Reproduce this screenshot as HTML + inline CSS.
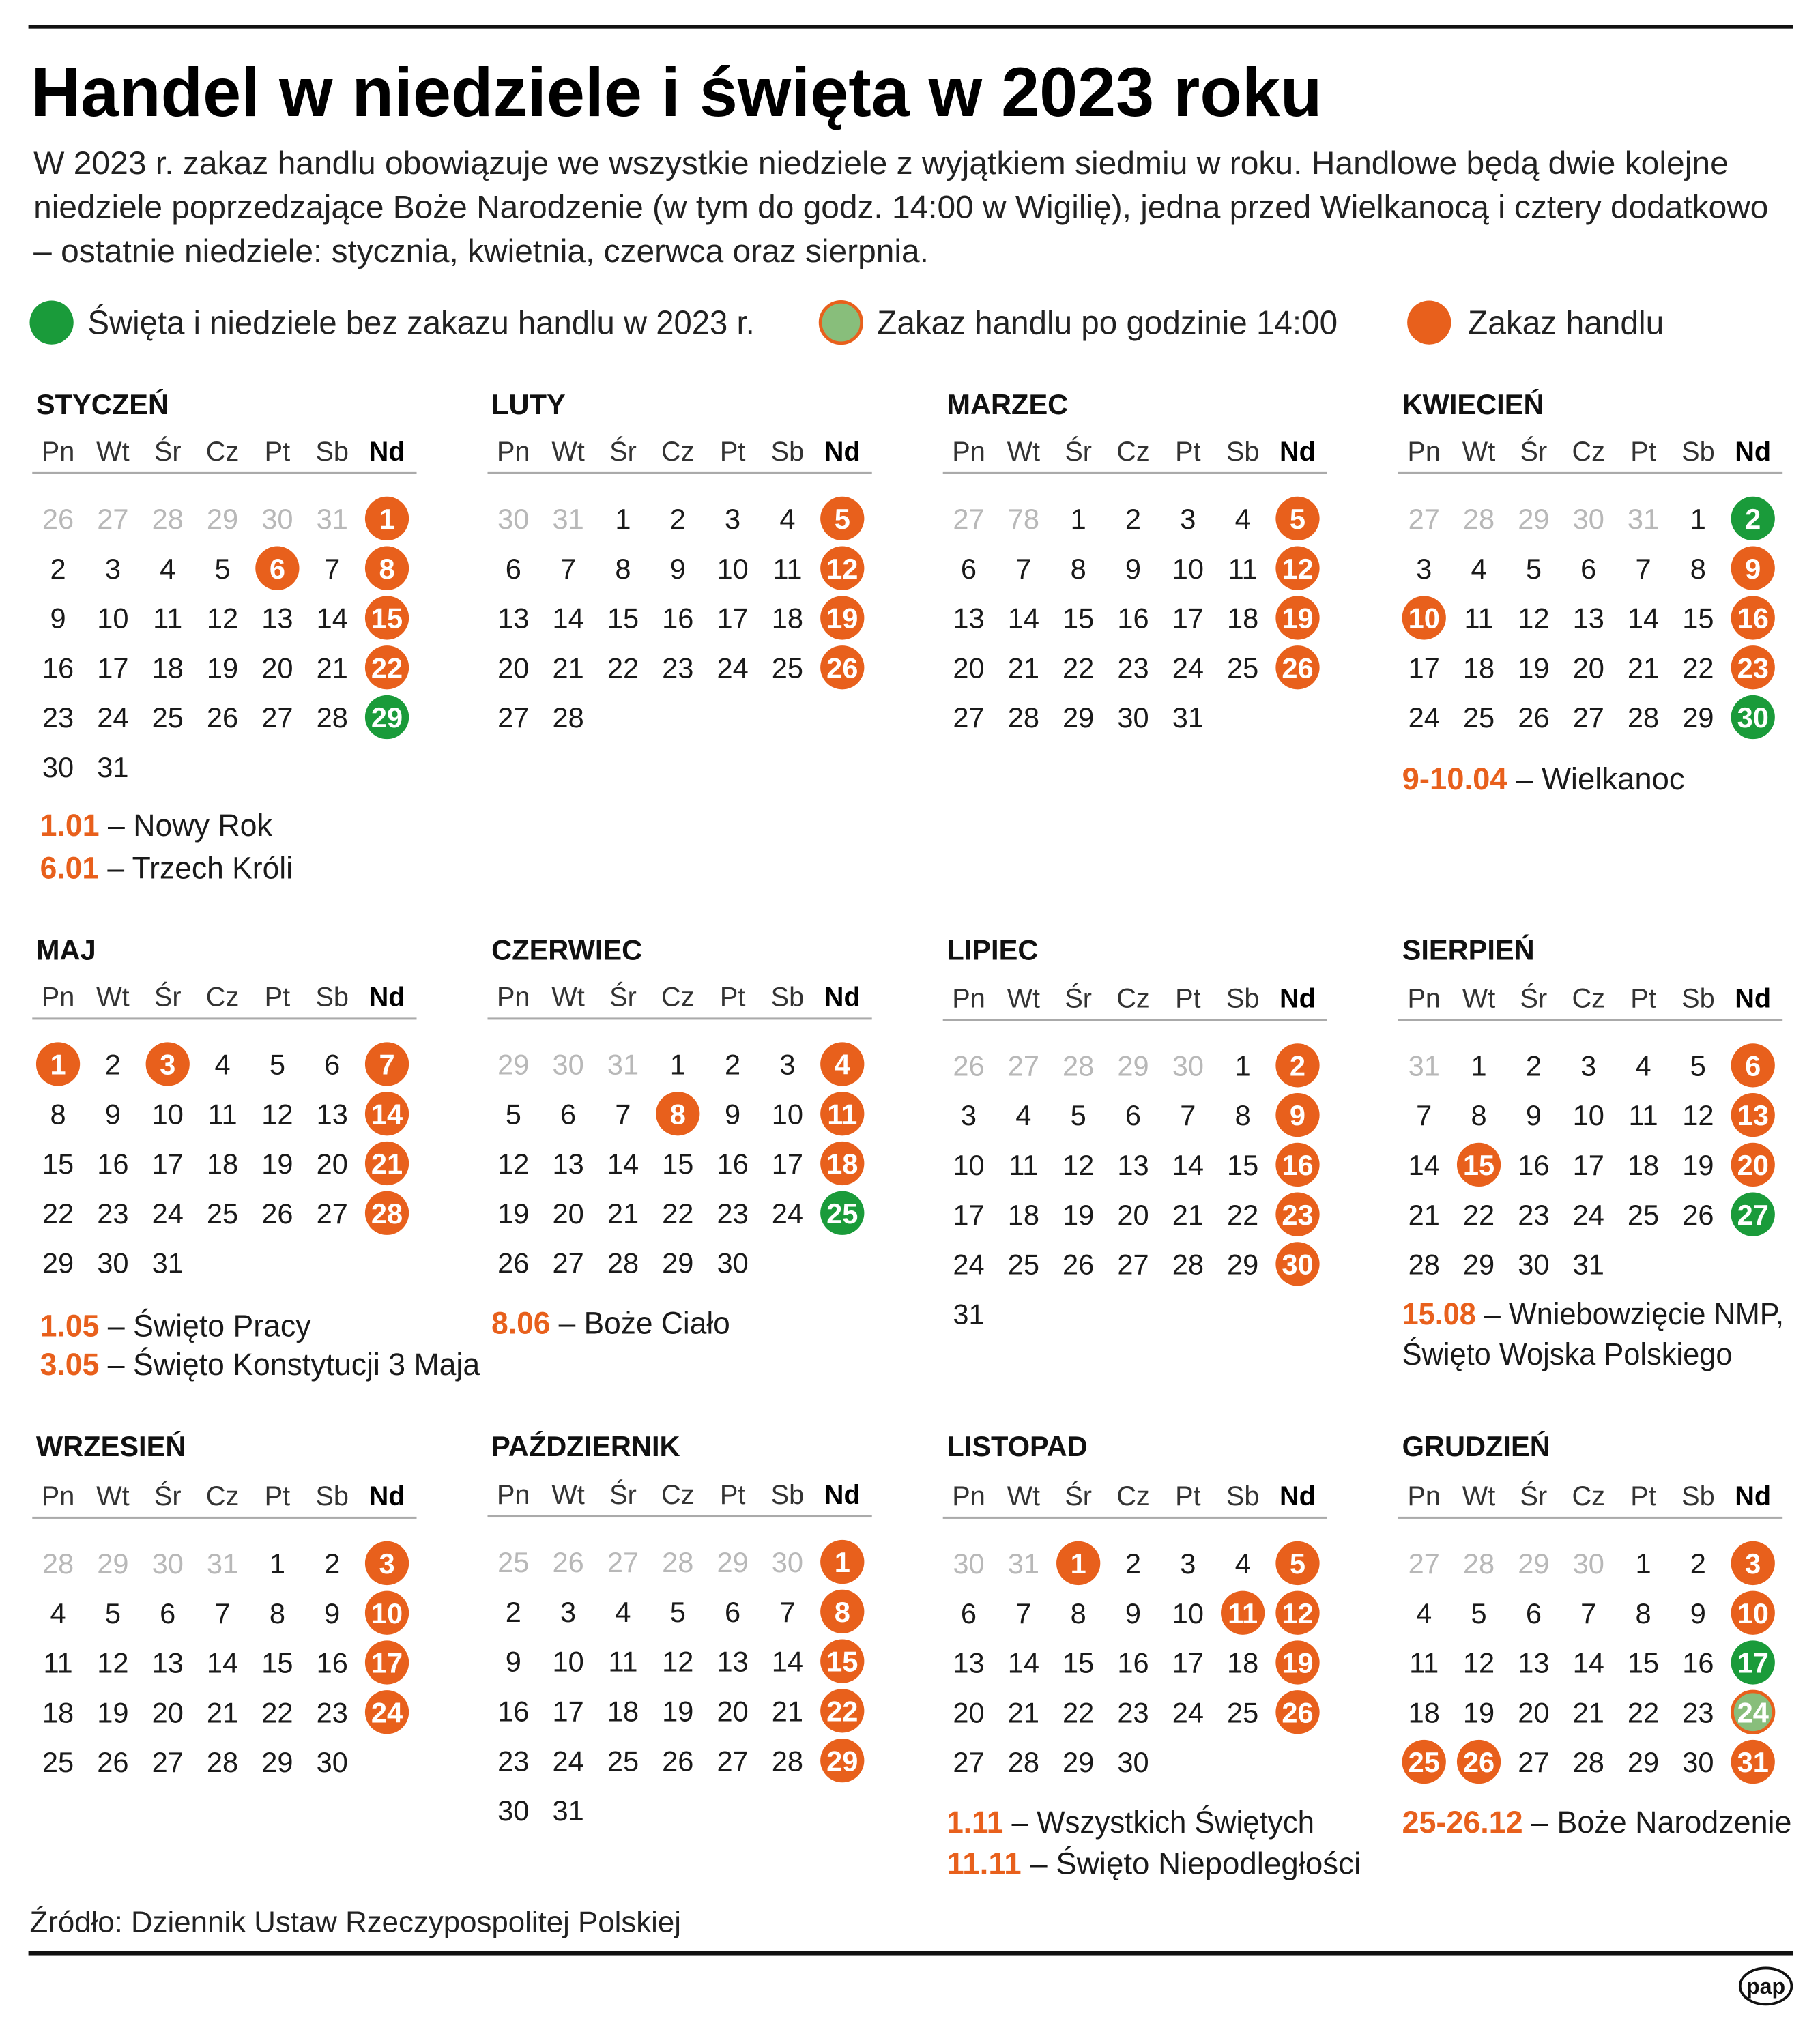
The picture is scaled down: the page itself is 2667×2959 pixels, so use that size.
<!DOCTYPE html>
<html><head><meta charset="utf-8"><style>
html,body{margin:0;padding:0;background:#fff}
svg{display:block}
text{font-family:"Liberation Sans","DejaVu Sans",sans-serif}
.d{font-size:22px;fill:#1a1a1a;text-anchor:middle}
.g{font-size:22px;fill:#b8b8b8;text-anchor:middle}
.w{font-size:22px;fill:#fff;font-weight:bold;text-anchor:middle}
.h{font-size:21px;fill:#333;text-anchor:middle}
.hb{font-size:21px;fill:#000;font-weight:bold;text-anchor:middle}
.t{font-size:22px;font-weight:bold;fill:#111}
.n{font-size:24px;fill:#1a1a1a}
.nb{fill:#E8601C;font-weight:bold}
.o{fill:#E8601C}.gr{fill:#1A9B3A}.lg{fill:#88BE7B;stroke:#E8601C;stroke-width:2.5}
</style></head><body>
<svg width="2667" height="2959" viewBox="0 0 1411 1565.4" xmlns="http://www.w3.org/2000/svg">
<defs>
<g id="hdr">
<text class="h" x="45" y="-45">Pn</text><text class="h" x="87.5" y="-45">Wt</text><text class="h" x="130" y="-45">Śr</text><text class="h" x="172.5" y="-45">Cz</text><text class="h" x="215" y="-45">Pt</text><text class="h" x="257.5" y="-45">Sb</text><text class="hb" x="300" y="-45">Nd</text>
<rect x="25" y="-36" width="298" height="1.6" fill="#aaa"/>
</g>
</defs>
<rect x="22" y="19" width="1368" height="3" fill="#111"/>
<text x="24" y="90" font-size="54" font-weight="bold" fill="#000" textLength="1001" lengthAdjust="spacingAndGlyphs">Handel w niedziele i święta w 2023 roku</text>
<text x="26" y="135" font-size="25" fill="#222" textLength="1314" lengthAdjust="spacingAndGlyphs">W 2023 r. zakaz handlu obowiązuje we wszystkie niedziele z wyjątkiem siedmiu w roku. Handlowe będą dwie kolejne</text>
<text x="26" y="169" font-size="25" fill="#222" textLength="1345" lengthAdjust="spacingAndGlyphs">niedziele poprzedzające Boże Narodzenie (w tym do godz. 14:00 w Wigilię), jedna przed Wielkanocą i cztery dodatkowo</text>
<text x="26" y="203" font-size="25" fill="#222" textLength="694" lengthAdjust="spacingAndGlyphs">– ostatnie niedziele: stycznia, kwietnia, czerwca oraz sierpnia.</text>
<circle cx="40" cy="250" r="17" class="gr"/>
<text x="68" y="259" font-size="26" fill="#222" textLength="517" lengthAdjust="spacingAndGlyphs">Święta i niedziele bez zakazu handlu w 2023 r.</text>
<circle cx="652" cy="250" r="16" class="lg"/>
<text x="680" y="259" font-size="26" fill="#222" textLength="357" lengthAdjust="spacingAndGlyphs">Zakaz handlu po godzinie 14:00</text>
<circle cx="1108" cy="250" r="17" class="o"/>
<text x="1138" y="259" font-size="26" fill="#222" textLength="152" lengthAdjust="spacingAndGlyphs">Zakaz handlu</text>

<!-- STYCZEN -->
<g transform="translate(0,402)">
<text class="t" x="28" y="-81">STYCZEŃ</text><use href="#hdr"/>
<text class="g" x="45" y="8">26</text><text class="g" x="87.5" y="8">27</text><text class="g" x="130" y="8">28</text><text class="g" x="172.5" y="8">29</text><text class="g" x="215" y="8">30</text><text class="g" x="257.5" y="8">31</text><circle cx="300" cy="0" r="17" class="o"/><text class="w" x="300" y="8">1</text>
<text class="d" x="45" y="46.5">2</text><text class="d" x="87.5" y="46.5">3</text><text class="d" x="130" y="46.5">4</text><text class="d" x="172.5" y="46.5">5</text><circle cx="215" cy="38.5" r="17" class="o"/><text class="w" x="215" y="46.5">6</text><text class="d" x="257.5" y="46.5">7</text><circle cx="300" cy="38.5" r="17" class="o"/><text class="w" x="300" y="46.5">8</text>
<text class="d" x="45" y="85">9</text><text class="d" x="87.5" y="85">10</text><text class="d" x="130" y="85">11</text><text class="d" x="172.5" y="85">12</text><text class="d" x="215" y="85">13</text><text class="d" x="257.5" y="85">14</text><circle cx="300" cy="77" r="17" class="o"/><text class="w" x="300" y="85">15</text>
<text class="d" x="45" y="123.5">16</text><text class="d" x="87.5" y="123.5">17</text><text class="d" x="130" y="123.5">18</text><text class="d" x="172.5" y="123.5">19</text><text class="d" x="215" y="123.5">20</text><text class="d" x="257.5" y="123.5">21</text><circle cx="300" cy="115.5" r="17" class="o"/><text class="w" x="300" y="123.5">22</text>
<text class="d" x="45" y="162">23</text><text class="d" x="87.5" y="162">24</text><text class="d" x="130" y="162">25</text><text class="d" x="172.5" y="162">26</text><text class="d" x="215" y="162">27</text><text class="d" x="257.5" y="162">28</text><circle cx="300" cy="154" r="17" class="gr"/><text class="w" x="300" y="162">29</text>
<text class="d" x="45" y="200.5">30</text><text class="d" x="87.5" y="200.5">31</text>
<text class="n" x="31" y="246" textLength="180" lengthAdjust="spacingAndGlyphs"><tspan class="nb">1.01</tspan> – Nowy Rok</text>
<text class="n" x="31" y="279" textLength="196" lengthAdjust="spacingAndGlyphs"><tspan class="nb">6.01</tspan> – Trzech Króli</text>
</g>

<!-- LUTY -->
<g transform="translate(353,402)">
<text class="t" x="28" y="-81">LUTY</text><use href="#hdr"/>
<text class="g" x="45" y="8">30</text><text class="g" x="87.5" y="8">31</text><text class="d" x="130" y="8">1</text><text class="d" x="172.5" y="8">2</text><text class="d" x="215" y="8">3</text><text class="d" x="257.5" y="8">4</text><circle cx="300" cy="0" r="17" class="o"/><text class="w" x="300" y="8">5</text>
<text class="d" x="45" y="46.5">6</text><text class="d" x="87.5" y="46.5">7</text><text class="d" x="130" y="46.5">8</text><text class="d" x="172.5" y="46.5">9</text><text class="d" x="215" y="46.5">10</text><text class="d" x="257.5" y="46.5">11</text><circle cx="300" cy="38.5" r="17" class="o"/><text class="w" x="300" y="46.5">12</text>
<text class="d" x="45" y="85">13</text><text class="d" x="87.5" y="85">14</text><text class="d" x="130" y="85">15</text><text class="d" x="172.5" y="85">16</text><text class="d" x="215" y="85">17</text><text class="d" x="257.5" y="85">18</text><circle cx="300" cy="77" r="17" class="o"/><text class="w" x="300" y="85">19</text>
<text class="d" x="45" y="123.5">20</text><text class="d" x="87.5" y="123.5">21</text><text class="d" x="130" y="123.5">22</text><text class="d" x="172.5" y="123.5">23</text><text class="d" x="215" y="123.5">24</text><text class="d" x="257.5" y="123.5">25</text><circle cx="300" cy="115.5" r="17" class="o"/><text class="w" x="300" y="123.5">26</text>
<text class="d" x="45" y="162">27</text><text class="d" x="87.5" y="162">28</text>
</g>

<!-- MARZEC -->
<g transform="translate(706,402)">
<text class="t" x="28" y="-81">MARZEC</text><use href="#hdr"/>
<text class="g" x="45" y="8">27</text><text class="g" x="87.5" y="8">78</text><text class="d" x="130" y="8">1</text><text class="d" x="172.5" y="8">2</text><text class="d" x="215" y="8">3</text><text class="d" x="257.5" y="8">4</text><circle cx="300" cy="0" r="17" class="o"/><text class="w" x="300" y="8">5</text>
<text class="d" x="45" y="46.5">6</text><text class="d" x="87.5" y="46.5">7</text><text class="d" x="130" y="46.5">8</text><text class="d" x="172.5" y="46.5">9</text><text class="d" x="215" y="46.5">10</text><text class="d" x="257.5" y="46.5">11</text><circle cx="300" cy="38.5" r="17" class="o"/><text class="w" x="300" y="46.5">12</text>
<text class="d" x="45" y="85">13</text><text class="d" x="87.5" y="85">14</text><text class="d" x="130" y="85">15</text><text class="d" x="172.5" y="85">16</text><text class="d" x="215" y="85">17</text><text class="d" x="257.5" y="85">18</text><circle cx="300" cy="77" r="17" class="o"/><text class="w" x="300" y="85">19</text>
<text class="d" x="45" y="123.5">20</text><text class="d" x="87.5" y="123.5">21</text><text class="d" x="130" y="123.5">22</text><text class="d" x="172.5" y="123.5">23</text><text class="d" x="215" y="123.5">24</text><text class="d" x="257.5" y="123.5">25</text><circle cx="300" cy="115.5" r="17" class="o"/><text class="w" x="300" y="123.5">26</text>
<text class="d" x="45" y="162">27</text><text class="d" x="87.5" y="162">28</text><text class="d" x="130" y="162">29</text><text class="d" x="172.5" y="162">30</text><text class="d" x="215" y="162">31</text>
</g>

<!-- KWIECIEN -->
<g transform="translate(1059,402)">
<text class="t" x="28" y="-81">KWIECIEŃ</text><use href="#hdr"/>
<text class="g" x="45" y="8">27</text><text class="g" x="87.5" y="8">28</text><text class="g" x="130" y="8">29</text><text class="g" x="172.5" y="8">30</text><text class="g" x="215" y="8">31</text><text class="d" x="257.5" y="8">1</text><circle cx="300" cy="0" r="17" class="gr"/><text class="w" x="300" y="8">2</text>
<text class="d" x="45" y="46.5">3</text><text class="d" x="87.5" y="46.5">4</text><text class="d" x="130" y="46.5">5</text><text class="d" x="172.5" y="46.5">6</text><text class="d" x="215" y="46.5">7</text><text class="d" x="257.5" y="46.5">8</text><circle cx="300" cy="38.5" r="17" class="o"/><text class="w" x="300" y="46.5">9</text>
<circle cx="45" cy="77" r="17" class="o"/><text class="w" x="45" y="85">10</text><text class="d" x="87.5" y="85">11</text><text class="d" x="130" y="85">12</text><text class="d" x="172.5" y="85">13</text><text class="d" x="215" y="85">14</text><text class="d" x="257.5" y="85">15</text><circle cx="300" cy="77" r="17" class="o"/><text class="w" x="300" y="85">16</text>
<text class="d" x="45" y="123.5">17</text><text class="d" x="87.5" y="123.5">18</text><text class="d" x="130" y="123.5">19</text><text class="d" x="172.5" y="123.5">20</text><text class="d" x="215" y="123.5">21</text><text class="d" x="257.5" y="123.5">22</text><circle cx="300" cy="115.5" r="17" class="o"/><text class="w" x="300" y="123.5">23</text>
<text class="d" x="45" y="162">24</text><text class="d" x="87.5" y="162">25</text><text class="d" x="130" y="162">26</text><text class="d" x="172.5" y="162">27</text><text class="d" x="215" y="162">28</text><text class="d" x="257.5" y="162">29</text><circle cx="300" cy="154" r="17" class="gr"/><text class="w" x="300" y="162">30</text>
<text class="n" x="28" y="210" textLength="219" lengthAdjust="spacingAndGlyphs"><tspan class="nb">9-10.04</tspan> – Wielkanoc</text>
</g>

<!-- MAJ -->
<g transform="translate(0,825)">
<text class="t" x="28" y="-81">MAJ</text><use href="#hdr"/>
<circle cx="45" cy="0" r="17" class="o"/><text class="w" x="45" y="8">1</text><text class="d" x="87.5" y="8">2</text><circle cx="130" cy="0" r="17" class="o"/><text class="w" x="130" y="8">3</text><text class="d" x="172.5" y="8">4</text><text class="d" x="215" y="8">5</text><text class="d" x="257.5" y="8">6</text><circle cx="300" cy="0" r="17" class="o"/><text class="w" x="300" y="8">7</text>
<text class="d" x="45" y="46.5">8</text><text class="d" x="87.5" y="46.5">9</text><text class="d" x="130" y="46.5">10</text><text class="d" x="172.5" y="46.5">11</text><text class="d" x="215" y="46.5">12</text><text class="d" x="257.5" y="46.5">13</text><circle cx="300" cy="38.5" r="17" class="o"/><text class="w" x="300" y="46.5">14</text>
<text class="d" x="45" y="85">15</text><text class="d" x="87.5" y="85">16</text><text class="d" x="130" y="85">17</text><text class="d" x="172.5" y="85">18</text><text class="d" x="215" y="85">19</text><text class="d" x="257.5" y="85">20</text><circle cx="300" cy="77" r="17" class="o"/><text class="w" x="300" y="85">21</text>
<text class="d" x="45" y="123.5">22</text><text class="d" x="87.5" y="123.5">23</text><text class="d" x="130" y="123.5">24</text><text class="d" x="172.5" y="123.5">25</text><text class="d" x="215" y="123.5">26</text><text class="d" x="257.5" y="123.5">27</text><circle cx="300" cy="115.5" r="17" class="o"/><text class="w" x="300" y="123.5">28</text>
<text class="d" x="45" y="162">29</text><text class="d" x="87.5" y="162">30</text><text class="d" x="130" y="162">31</text>
<text class="n" x="31" y="211" textLength="210" lengthAdjust="spacingAndGlyphs"><tspan class="nb">1.05</tspan> – Święto Pracy</text>
<text class="n" x="31" y="241" textLength="341" lengthAdjust="spacingAndGlyphs"><tspan class="nb">3.05</tspan> – Święto Konstytucji 3 Maja</text>
</g>

<!-- CZERWIEC -->
<g transform="translate(353,825)">
<text class="t" x="28" y="-81">CZERWIEC</text><use href="#hdr"/>
<text class="g" x="45" y="8">29</text><text class="g" x="87.5" y="8">30</text><text class="g" x="130" y="8">31</text><text class="d" x="172.5" y="8">1</text><text class="d" x="215" y="8">2</text><text class="d" x="257.5" y="8">3</text><circle cx="300" cy="0" r="17" class="o"/><text class="w" x="300" y="8">4</text>
<text class="d" x="45" y="46.5">5</text><text class="d" x="87.5" y="46.5">6</text><text class="d" x="130" y="46.5">7</text><circle cx="172.5" cy="38.5" r="17" class="o"/><text class="w" x="172.5" y="46.5">8</text><text class="d" x="215" y="46.5">9</text><text class="d" x="257.5" y="46.5">10</text><circle cx="300" cy="38.5" r="17" class="o"/><text class="w" x="300" y="46.5">11</text>
<text class="d" x="45" y="85">12</text><text class="d" x="87.5" y="85">13</text><text class="d" x="130" y="85">14</text><text class="d" x="172.5" y="85">15</text><text class="d" x="215" y="85">16</text><text class="d" x="257.5" y="85">17</text><circle cx="300" cy="77" r="17" class="o"/><text class="w" x="300" y="85">18</text>
<text class="d" x="45" y="123.5">19</text><text class="d" x="87.5" y="123.5">20</text><text class="d" x="130" y="123.5">21</text><text class="d" x="172.5" y="123.5">22</text><text class="d" x="215" y="123.5">23</text><text class="d" x="257.5" y="123.5">24</text><circle cx="300" cy="115.5" r="17" class="gr"/><text class="w" x="300" y="123.5">25</text>
<text class="d" x="45" y="162">26</text><text class="d" x="87.5" y="162">27</text><text class="d" x="130" y="162">28</text><text class="d" x="172.5" y="162">29</text><text class="d" x="215" y="162">30</text>
<text class="n" x="28" y="209" textLength="185" lengthAdjust="spacingAndGlyphs"><tspan class="nb">8.06</tspan> – Boże Ciało</text>
</g>

<!-- LIPIEC -->
<g transform="translate(706,826)">
<text class="t" x="28" y="-82">LIPIEC</text><use href="#hdr"/>
<text class="g" x="45" y="8">26</text><text class="g" x="87.5" y="8">27</text><text class="g" x="130" y="8">28</text><text class="g" x="172.5" y="8">29</text><text class="g" x="215" y="8">30</text><text class="d" x="257.5" y="8">1</text><circle cx="300" cy="0" r="17" class="o"/><text class="w" x="300" y="8">2</text>
<text class="d" x="45" y="46.5">3</text><text class="d" x="87.5" y="46.5">4</text><text class="d" x="130" y="46.5">5</text><text class="d" x="172.5" y="46.5">6</text><text class="d" x="215" y="46.5">7</text><text class="d" x="257.5" y="46.5">8</text><circle cx="300" cy="38.5" r="17" class="o"/><text class="w" x="300" y="46.5">9</text>
<text class="d" x="45" y="85">10</text><text class="d" x="87.5" y="85">11</text><text class="d" x="130" y="85">12</text><text class="d" x="172.5" y="85">13</text><text class="d" x="215" y="85">14</text><text class="d" x="257.5" y="85">15</text><circle cx="300" cy="77" r="17" class="o"/><text class="w" x="300" y="85">16</text>
<text class="d" x="45" y="123.5">17</text><text class="d" x="87.5" y="123.5">18</text><text class="d" x="130" y="123.5">19</text><text class="d" x="172.5" y="123.5">20</text><text class="d" x="215" y="123.5">21</text><text class="d" x="257.5" y="123.5">22</text><circle cx="300" cy="115.5" r="17" class="o"/><text class="w" x="300" y="123.5">23</text>
<text class="d" x="45" y="162">24</text><text class="d" x="87.5" y="162">25</text><text class="d" x="130" y="162">26</text><text class="d" x="172.5" y="162">27</text><text class="d" x="215" y="162">28</text><text class="d" x="257.5" y="162">29</text><circle cx="300" cy="154" r="17" class="o"/><text class="w" x="300" y="162">30</text>
<text class="d" x="45" y="200.5">31</text>
</g>

<!-- SIERPIEN -->
<g transform="translate(1059,826)">
<text class="t" x="28" y="-82">SIERPIEŃ</text><use href="#hdr"/>
<text class="g" x="45" y="8">31</text><text class="d" x="87.5" y="8">1</text><text class="d" x="130" y="8">2</text><text class="d" x="172.5" y="8">3</text><text class="d" x="215" y="8">4</text><text class="d" x="257.5" y="8">5</text><circle cx="300" cy="0" r="17" class="o"/><text class="w" x="300" y="8">6</text>
<text class="d" x="45" y="46.5">7</text><text class="d" x="87.5" y="46.5">8</text><text class="d" x="130" y="46.5">9</text><text class="d" x="172.5" y="46.5">10</text><text class="d" x="215" y="46.5">11</text><text class="d" x="257.5" y="46.5">12</text><circle cx="300" cy="38.5" r="17" class="o"/><text class="w" x="300" y="46.5">13</text>
<text class="d" x="45" y="85">14</text><circle cx="87.5" cy="77" r="17" class="o"/><text class="w" x="87.5" y="85">15</text><text class="d" x="130" y="85">16</text><text class="d" x="172.5" y="85">17</text><text class="d" x="215" y="85">18</text><text class="d" x="257.5" y="85">19</text><circle cx="300" cy="77" r="17" class="o"/><text class="w" x="300" y="85">20</text>
<text class="d" x="45" y="123.5">21</text><text class="d" x="87.5" y="123.5">22</text><text class="d" x="130" y="123.5">23</text><text class="d" x="172.5" y="123.5">24</text><text class="d" x="215" y="123.5">25</text><text class="d" x="257.5" y="123.5">26</text><circle cx="300" cy="115.5" r="17" class="gr"/><text class="w" x="300" y="123.5">27</text>
<text class="d" x="45" y="162">28</text><text class="d" x="87.5" y="162">29</text><text class="d" x="130" y="162">30</text><text class="d" x="172.5" y="162">31</text>
<text class="n" x="28" y="201" textLength="296" lengthAdjust="spacingAndGlyphs"><tspan class="nb">15.08</tspan> – Wniebowzięcie NMP,</text>
<text class="n" x="28" y="232" textLength="256" lengthAdjust="spacingAndGlyphs">Święto Wojska Polskiego</text>
</g>

<!-- WRZESIEN -->
<g transform="translate(0,1212)">
<text class="t" x="28" y="-83">WRZESIEŃ</text><use href="#hdr"/>
<text class="g" x="45" y="8">28</text><text class="g" x="87.5" y="8">29</text><text class="g" x="130" y="8">30</text><text class="g" x="172.5" y="8">31</text><text class="d" x="215" y="8">1</text><text class="d" x="257.5" y="8">2</text><circle cx="300" cy="0" r="17" class="o"/><text class="w" x="300" y="8">3</text>
<text class="d" x="45" y="46.5">4</text><text class="d" x="87.5" y="46.5">5</text><text class="d" x="130" y="46.5">6</text><text class="d" x="172.5" y="46.5">7</text><text class="d" x="215" y="46.5">8</text><text class="d" x="257.5" y="46.5">9</text><circle cx="300" cy="38.5" r="17" class="o"/><text class="w" x="300" y="46.5">10</text>
<text class="d" x="45" y="85">11</text><text class="d" x="87.5" y="85">12</text><text class="d" x="130" y="85">13</text><text class="d" x="172.5" y="85">14</text><text class="d" x="215" y="85">15</text><text class="d" x="257.5" y="85">16</text><circle cx="300" cy="77" r="17" class="o"/><text class="w" x="300" y="85">17</text>
<text class="d" x="45" y="123.5">18</text><text class="d" x="87.5" y="123.5">19</text><text class="d" x="130" y="123.5">20</text><text class="d" x="172.5" y="123.5">21</text><text class="d" x="215" y="123.5">22</text><text class="d" x="257.5" y="123.5">23</text><circle cx="300" cy="115.5" r="17" class="o"/><text class="w" x="300" y="123.5">24</text>
<text class="d" x="45" y="162">25</text><text class="d" x="87.5" y="162">26</text><text class="d" x="130" y="162">27</text><text class="d" x="172.5" y="162">28</text><text class="d" x="215" y="162">29</text><text class="d" x="257.5" y="162">30</text>
</g>

<!-- PAZDZIERNIK -->
<g transform="translate(353,1211)">
<text class="t" x="28" y="-82">PAŹDZIERNIK</text><use href="#hdr"/>
<text class="g" x="45" y="8">25</text><text class="g" x="87.5" y="8">26</text><text class="g" x="130" y="8">27</text><text class="g" x="172.5" y="8">28</text><text class="g" x="215" y="8">29</text><text class="g" x="257.5" y="8">30</text><circle cx="300" cy="0" r="17" class="o"/><text class="w" x="300" y="8">1</text>
<text class="d" x="45" y="46.5">2</text><text class="d" x="87.5" y="46.5">3</text><text class="d" x="130" y="46.5">4</text><text class="d" x="172.5" y="46.5">5</text><text class="d" x="215" y="46.5">6</text><text class="d" x="257.5" y="46.5">7</text><circle cx="300" cy="38.5" r="17" class="o"/><text class="w" x="300" y="46.5">8</text>
<text class="d" x="45" y="85">9</text><text class="d" x="87.5" y="85">10</text><text class="d" x="130" y="85">11</text><text class="d" x="172.5" y="85">12</text><text class="d" x="215" y="85">13</text><text class="d" x="257.5" y="85">14</text><circle cx="300" cy="77" r="17" class="o"/><text class="w" x="300" y="85">15</text>
<text class="d" x="45" y="123.5">16</text><text class="d" x="87.5" y="123.5">17</text><text class="d" x="130" y="123.5">18</text><text class="d" x="172.5" y="123.5">19</text><text class="d" x="215" y="123.5">20</text><text class="d" x="257.5" y="123.5">21</text><circle cx="300" cy="115.5" r="17" class="o"/><text class="w" x="300" y="123.5">22</text>
<text class="d" x="45" y="162">23</text><text class="d" x="87.5" y="162">24</text><text class="d" x="130" y="162">25</text><text class="d" x="172.5" y="162">26</text><text class="d" x="215" y="162">27</text><text class="d" x="257.5" y="162">28</text><circle cx="300" cy="154" r="17" class="o"/><text class="w" x="300" y="162">29</text>
<text class="d" x="45" y="200.5">30</text><text class="d" x="87.5" y="200.5">31</text>
</g>

<!-- LISTOPAD -->
<g transform="translate(706,1212)">
<text class="t" x="28" y="-83">LISTOPAD</text><use href="#hdr"/>
<text class="g" x="45" y="8">30</text><text class="g" x="87.5" y="8">31</text><circle cx="130" cy="0" r="17" class="o"/><text class="w" x="130" y="8">1</text><text class="d" x="172.5" y="8">2</text><text class="d" x="215" y="8">3</text><text class="d" x="257.5" y="8">4</text><circle cx="300" cy="0" r="17" class="o"/><text class="w" x="300" y="8">5</text>
<text class="d" x="45" y="46.5">6</text><text class="d" x="87.5" y="46.5">7</text><text class="d" x="130" y="46.5">8</text><text class="d" x="172.5" y="46.5">9</text><text class="d" x="215" y="46.5">10</text><circle cx="257.5" cy="38.5" r="17" class="o"/><text class="w" x="257.5" y="46.5">11</text><circle cx="300" cy="38.5" r="17" class="o"/><text class="w" x="300" y="46.5">12</text>
<text class="d" x="45" y="85">13</text><text class="d" x="87.5" y="85">14</text><text class="d" x="130" y="85">15</text><text class="d" x="172.5" y="85">16</text><text class="d" x="215" y="85">17</text><text class="d" x="257.5" y="85">18</text><circle cx="300" cy="77" r="17" class="o"/><text class="w" x="300" y="85">19</text>
<text class="d" x="45" y="123.5">20</text><text class="d" x="87.5" y="123.5">21</text><text class="d" x="130" y="123.5">22</text><text class="d" x="172.5" y="123.5">23</text><text class="d" x="215" y="123.5">24</text><text class="d" x="257.5" y="123.5">25</text><circle cx="300" cy="115.5" r="17" class="o"/><text class="w" x="300" y="123.5">26</text>
<text class="d" x="45" y="162">27</text><text class="d" x="87.5" y="162">28</text><text class="d" x="130" y="162">29</text><text class="d" x="172.5" y="162">30</text>
<text class="n" x="28" y="209" textLength="285" lengthAdjust="spacingAndGlyphs"><tspan class="nb">1.11</tspan> – Wszystkich Świętych</text>
<text class="n" x="28" y="241" textLength="321" lengthAdjust="spacingAndGlyphs"><tspan class="nb">11.11</tspan> – Święto Niepodległości</text>
</g>

<!-- GRUDZIEN -->
<g transform="translate(1059,1212)">
<text class="t" x="28" y="-83">GRUDZIEŃ</text><use href="#hdr"/>
<text class="g" x="45" y="8">27</text><text class="g" x="87.5" y="8">28</text><text class="g" x="130" y="8">29</text><text class="g" x="172.5" y="8">30</text><text class="d" x="215" y="8">1</text><text class="d" x="257.5" y="8">2</text><circle cx="300" cy="0" r="17" class="o"/><text class="w" x="300" y="8">3</text>
<text class="d" x="45" y="46.5">4</text><text class="d" x="87.5" y="46.5">5</text><text class="d" x="130" y="46.5">6</text><text class="d" x="172.5" y="46.5">7</text><text class="d" x="215" y="46.5">8</text><text class="d" x="257.5" y="46.5">9</text><circle cx="300" cy="38.5" r="17" class="o"/><text class="w" x="300" y="46.5">10</text>
<text class="d" x="45" y="85">11</text><text class="d" x="87.5" y="85">12</text><text class="d" x="130" y="85">13</text><text class="d" x="172.5" y="85">14</text><text class="d" x="215" y="85">15</text><text class="d" x="257.5" y="85">16</text><circle cx="300" cy="77" r="17" class="gr"/><text class="w" x="300" y="85">17</text>
<text class="d" x="45" y="123.5">18</text><text class="d" x="87.5" y="123.5">19</text><text class="d" x="130" y="123.5">20</text><text class="d" x="172.5" y="123.5">21</text><text class="d" x="215" y="123.5">22</text><text class="d" x="257.5" y="123.5">23</text><circle cx="300" cy="115.5" r="16" class="lg"/><text class="w" x="300" y="123.5">24</text>
<circle cx="45" cy="154" r="17" class="o"/><text class="w" x="45" y="162">25</text><circle cx="87.5" cy="154" r="17" class="o"/><text class="w" x="87.5" y="162">26</text><text class="d" x="130" y="162">27</text><text class="d" x="172.5" y="162">28</text><text class="d" x="215" y="162">29</text><text class="d" x="257.5" y="162">30</text><circle cx="300" cy="154" r="17" class="o"/><text class="w" x="300" y="162">31</text>
<text class="n" x="28" y="209" textLength="302" lengthAdjust="spacingAndGlyphs"><tspan class="nb">25-26.12</tspan> – Boże Narodzenie</text>
</g>

<text x="23" y="1498" font-size="23" fill="#222" textLength="505" lengthAdjust="spacingAndGlyphs">Źródło: Dziennik Ustaw Rzeczypospolitej Polskiej</text>
<rect x="22" y="1513" width="1368" height="3" fill="#111"/>
<ellipse cx="1369" cy="1540" rx="20" ry="14" fill="#fff" stroke="#111" stroke-width="2"/>
<text x="1369" y="1546" font-size="17" font-weight="bold" fill="#111" text-anchor="middle">pap</text>
</svg>
</body></html>
